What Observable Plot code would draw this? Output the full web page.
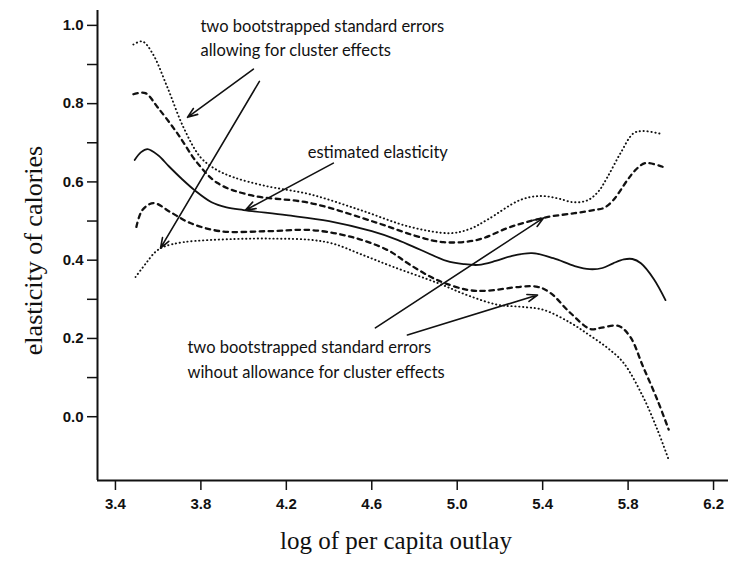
<!DOCTYPE html>
<html><head><meta charset="utf-8">
<script src="https://cdn.jsdelivr.net/npm/d3@7"></script>
<script src="https://cdn.jsdelivr.net/npm/@observablehq/plot@0.6"></script>
<style>body{margin:0;background:#fff}</style>
</head><body><div id="chart"></div>
<script>
// Estimated elasticity (solid)
const estX = [3.49, 3.52, 3.55, 3.60, 3.65, 3.71, 3.77, 3.85, 3.92, 4.00, 4.20, 4.40, 4.60, 4.72, 4.83, 4.95, 5.03, 5.10, 5.18, 5.25, 5.35, 5.45, 5.55, 5.62, 5.68, 5.73, 5.78, 5.82, 5.86, 5.92, 5.975];
const estY = [0.656, 0.676, 0.684, 0.668, 0.640, 0.608, 0.579, 0.548, 0.535, 0.528, 0.515, 0.500, 0.474, 0.452, 0.426, 0.398, 0.390, 0.388, 0.398, 0.410, 0.418, 0.405, 0.385, 0.377, 0.380, 0.392, 0.402, 0.403, 0.392, 0.352, 0.298];
// Two bootstrapped s.e. allowing for cluster effects (dotted)
const clUpX = [3.484, 3.526, 3.573, 3.643, 3.718, 3.798, 3.87, 3.952, 4.10, 4.313, 4.547, 4.78, 4.968, 5.06, 5.14, 5.296, 5.39, 5.47, 5.544, 5.61, 5.66, 5.703, 5.764, 5.825, 5.87, 5.96];
const clUpY = [0.951, 0.959, 0.929, 0.842, 0.740, 0.663, 0.632, 0.612, 0.590, 0.568, 0.528, 0.485, 0.469, 0.480, 0.503, 0.554, 0.564, 0.558, 0.548, 0.553, 0.575, 0.612, 0.673, 0.724, 0.730, 0.722];
const clLoX = [3.494, 3.54, 3.587, 3.625, 3.718, 3.952, 4.15, 4.313, 4.42, 4.55, 4.70, 4.907, 5.05, 5.19, 5.296, 5.404, 5.53, 5.62, 5.703, 5.778, 5.87, 5.937, 5.99];
const clLoY = [0.357, 0.390, 0.421, 0.434, 0.446, 0.454, 0.455, 0.452, 0.442, 0.415, 0.383, 0.342, 0.310, 0.286, 0.281, 0.273, 0.240, 0.208, 0.176, 0.138, 0.051, -0.033, -0.110];
// Two bootstrapped s.e. without allowance for cluster effects (dashed)
const ncUpX = [3.484, 3.54, 3.597, 3.69, 3.784, 3.878, 4.032, 4.313, 4.627, 4.80, 4.936, 5.095, 5.25, 5.42, 5.55, 5.638, 5.685, 5.73, 5.797, 5.834, 5.88, 5.965];
const ncUpY = [0.824, 0.827, 0.791, 0.724, 0.648, 0.597, 0.566, 0.546, 0.495, 0.463, 0.446, 0.452, 0.485, 0.510, 0.520, 0.528, 0.533, 0.553, 0.605, 0.630, 0.648, 0.638];
const ncLoX = [3.498, 3.526, 3.578, 3.657, 3.75, 3.892, 4.11, 4.313, 4.50, 4.673, 4.78, 4.907, 5.05, 5.14, 5.296, 5.376, 5.437, 5.53, 5.624, 5.67, 5.755, 5.81, 5.87, 5.937, 5.99];
const ncLoY = [0.485, 0.528, 0.546, 0.523, 0.495, 0.474, 0.474, 0.477, 0.460, 0.426, 0.388, 0.349, 0.324, 0.322, 0.332, 0.332, 0.316, 0.265, 0.224, 0.227, 0.232, 0.204, 0.128, 0.043, -0.033];

// Axis ticks
const xTicks = [3.4, 3.8, 4.2, 4.6, 5.0, 5.4, 5.8, 6.2];
const yTicks = [0.0, 0.2, 0.4, 0.6, 0.8, 1.0];
const yMinorTicks = [0.1, 0.3, 0.5, 0.7, 0.9];
const xDomain = [3.316, 6.27];
const yDomain = [-0.163, 1.038];

// Annotations (text lines and arrows, in data units)
const noteText = ["two bootstrapped standard errors", "allowing for cluster effects", "estimated elasticity", "two bootstrapped standard errors", "wihout allowance for cluster effects"];
const noteX = [3.798, 3.798, 4.30, 3.737, 3.737];
const noteY = [0.997, 0.934, 0.675, 0.176, 0.112];
const arrowX1 = [4.046, 4.074, 4.42, 4.617, 4.767];
const arrowY1 = [0.888, 0.857, 0.648, 0.227, 0.209];
const arrowX2 = [3.737, 3.611, 4.009, 5.404, 5.376];
const arrowY2 = [0.765, 0.431, 0.528, 0.508, 0.311];

const rows = (xs, ys) => xs.map((x, i) => ({x, y: ys[i]}));
const notes = noteText.map((t, i) => ({text: t, x: noteX[i], y: noteY[i]}));
const arrows = arrowX1.map((x1, i) => ({x1, y1: arrowY1[i], x2: arrowX2[i], y2: arrowY2[i]}));

const tickFont = "'Liberation Sans', Arial, sans-serif";
const noteFont = "Lato, 'Open Sans', sans-serif";
const titleFont = "'Liberation Serif', 'DejaVu Serif', serif";

const dotted = {stroke: "#111", strokeWidth: 1.9, strokeDasharray: "0.3,3.6", strokeLinecap: "round", curve: "catmull-rom"};
const dashed = {stroke: "#111", strokeWidth: 2.3, strokeDasharray: "4.5,4.5", curve: "catmull-rom"};

const chart = Plot.plot({
  width: 732, height: 563,
  marginLeft: 97, marginRight: 4, marginTop: 10, marginBottom: 83,
  style: {background: "white", color: "#111"},
  x: {domain: xDomain, label: null},
  y: {domain: yDomain, label: null},
  marks: [
    Plot.ruleX([xDomain[0]], {stroke: "#111", strokeWidth: 2}),
    Plot.ruleY([yDomain[0]], {stroke: "#111", strokeWidth: 2}),
    Plot.axisY(yTicks, {anchor: "left", tickSize: 10, tickPadding: 4, tickFormat: d => d.toFixed(1), fontSize: 15, fontFamily: tickFont, fontWeight: "bold", strokeWidth: 1.5}),
    Plot.axisY(yMinorTicks, {anchor: "left", tickSize: 10, tickFormat: () => "", strokeWidth: 1.5}),
    Plot.axisX(xTicks, {anchor: "bottom", tickSize: 10, tickPadding: 8, tickFormat: d => d.toFixed(1), fontSize: 15, fontFamily: tickFont, fontWeight: "bold", strokeWidth: 1.5}),
    Plot.line(rows(clUpX, clUpY), {x: "x", y: "y", ...dotted}),
    Plot.line(rows(clLoX, clLoY), {x: "x", y: "y", ...dotted}),
    Plot.line(rows(ncUpX, ncUpY), {x: "x", y: "y", ...dashed}),
    Plot.line(rows(ncLoX, ncLoY), {x: "x", y: "y", ...dashed}),
    Plot.line(rows(estX, estY), {x: "x", y: "y", stroke: "#111", strokeWidth: 1.8, curve: "catmull-rom"}),
    Plot.arrow(arrows, {x1: "x1", y1: "y1", x2: "x2", y2: "y2", stroke: "#111", strokeWidth: 1.6, headLength: 10, headAngle: 40}),
    Plot.text(notes, {x: "x", y: "y", text: "text", textAnchor: "start", fontSize: 16.5, fontFamily: noteFont, fill: "#111"}),
    Plot.text(["log of per capita outlay"], {frameAnchor: "bottom", textAnchor: "middle", dx: -17, dy: 68, fontSize: 25, fontFamily: titleFont, fill: "#111"}),
    Plot.text(["elasticity of calories"], {frameAnchor: "left", textAnchor: "middle", dx: -64, dy: 5, rotate: -90, fontSize: 26, fontFamily: titleFont, fill: "#111"})
  ]
});
document.getElementById("chart").appendChild(chart);
</script>
</body></html>
